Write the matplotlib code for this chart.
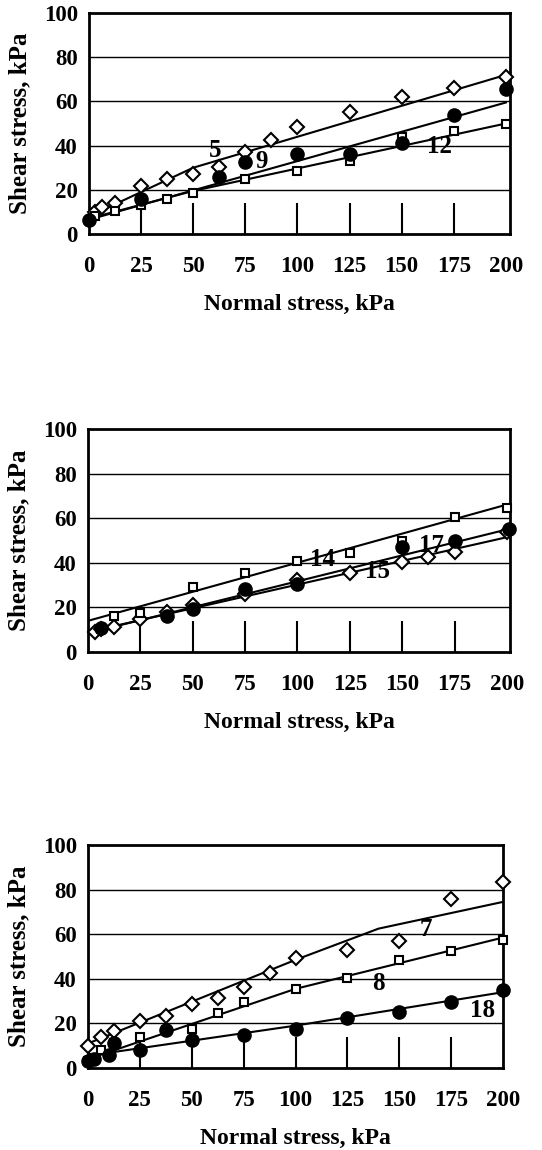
import matplotlib
matplotlib.use("Agg")
import matplotlib.pyplot as plt

plt.rcParams['font.family'] = ['Liberation Serif', 'DejaVu Serif']
plt.rcParams['font.weight'] = 'bold'

x_ticks = [0, 25, 50, 75, 100, 125, 150, 175, 200]
y_ticks = [0, 20, 40, 60, 80, 100]
grid_y = [20, 40, 60, 80]

# panel 1: soils 5, 9, 12
p1_x5 = [3.1, 6.3, 12.5, 25, 37.5, 50, 62.5, 75, 87.5, 100, 125, 150, 175, 200]
p1_y5 = [9.8, 12.4, 13.9, 21.7, 25, 27.3, 30.3, 37, 42.7, 48.5, 55, 62, 66, 71]
p1_x9 = [0, 25, 62.5, 75, 100, 125, 150, 175, 200]
p1_y9 = [6.4, 15.9, 25.8, 32.6, 36, 36, 41, 54, 65.5]
p1_x12 = [3.1, 12.5, 25, 37.5, 50, 75, 100, 125, 150, 175, 200]
p1_y12 = [8.3, 10.6, 13.3, 16, 18.6, 25, 28.3, 33, 44, 46.5, 50]
p1_fit5 = ([0, 50, 200], [8, 30, 72])
p1_fit9 = ([0, 200], [6.5, 59.5])
p1_fit12 = ([0, 50, 200], [7, 19.5, 50])

# panel 2: soils 14, 15, 17
p2_x14 = [6.3, 12.5, 25, 50, 75, 100, 125, 150, 175, 200]
p2_y14 = [10.5, 16.2, 17.5, 29, 35.5, 41, 44.3, 50, 60.7, 64.6]
p2_x15 = [3.1, 6.3, 12.5, 25, 37.5, 50, 75, 100, 125, 150, 162.5, 175, 200]
p2_y15 = [9, 10.4, 11.2, 15, 18, 21.3, 26, 32.5, 35.4, 40.3, 42.5, 45, 53.7]
p2_x17 = [6.3, 37.5, 50, 75, 100, 150, 175, 201]
p2_y17 = [11, 16, 19.4, 28.4, 30.3, 47, 50, 55.2]
p2_fit14 = ([0, 201], [14, 66.4])
p2_fit15 = ([0, 200], [9, 51.5])
p2_fit17 = ([0, 201], [8.5, 55.2])

# panel 3: soils 7, 8, 18
p3_x7 = [0, 6.3, 12.5, 25, 37.5, 50, 62.5, 75, 87.5, 100, 125, 150, 175, 200]
p3_y7 = [10, 14, 16.7, 21, 23.5, 28.8, 31.4, 36.2, 42.4, 49.5, 53, 57, 75.6, 83.6]
p3_x8 = [0, 3.1, 6.3, 12.5, 25, 37.5, 50, 62.5, 75, 100, 125, 150, 175, 200]
p3_y8 = [3, 4.4, 7.9, 11.4, 14, 17, 17.7, 24.5, 29.8, 35.6, 40.5, 48.5, 52.3, 57.4]
p3_x18 = [0, 3.1, 10, 12.5, 25, 37.5, 50, 75, 100, 125, 150, 175, 200]
p3_y18 = [3.3, 4, 6, 11, 8, 17, 12.4, 15, 17.7, 22.6, 25, 29.8, 35.2]
p3_fit7 = ([0, 100, 140, 200], [11, 48.5, 62.5, 74.5])
p3_fit8 = ([0, 100, 200], [4, 35.5, 58.5])
p3_fit18 = ([0, 100, 200], [5.5, 19, 34])

fig = plt.figure(figsize=(5.42, 11.5), dpi=100)

panels = [
    dict(rect=[0.1642, 0.7965, 0.7768, 0.1922], xmax=202,
         fits=[p1_fit5, p1_fit9, p1_fit12],
         diam=(p1_x5, p1_y5), circ=(p1_x9, p1_y9), sq=(p1_x12, p1_y12),
         labels=[("5", 60.7, 38), ("9", 83, 32.6), ("12", 168, 39.4)]),
    dict(rect=[0.1624, 0.4330, 0.7786, 0.1939], xmax=201.5,
         fits=[p2_fit14, p2_fit15, p2_fit17],
         diam=(p2_x15, p2_y15), circ=(p2_x17, p2_y17), sq=(p2_x14, p2_y14),
         labels=[("14", 112, 41.3), ("15", 138, 35.9), ("17", 164, 48)]),
    dict(rect=[0.1624, 0.0713, 0.7657, 0.1939], xmax=200,
         fits=[p3_fit7, p3_fit8, p3_fit18],
         diam=(p3_x7, p3_y7), circ=(p3_x18, p3_y18), sq=(p3_x8, p3_y8),
         labels=[("7", 163, 62), ("8", 140, 38), ("18", 190, 26)]),
]

for p in panels:
    ax = fig.add_axes(p['rect'])
    ax.set_xlim(0, p['xmax'])
    ax.set_ylim(0, 100)

    for gy in grid_y:
        ax.axhline(gy, color='black', lw=1.0, zorder=1)
    ax.vlines(x_ticks[1:-1], 0, 14, color='black', lw=1.5, zorder=1)

    for fx, fy in p['fits']:
        ax.plot(fx, fy, color='black', lw=1.5, zorder=2)

    ax.plot(*p['diam'], 'D', ms=7, mfc='white', mec='black', mew=1.5,
            ls='none', zorder=3, clip_on=False)
    ax.plot(*p['sq'], 's', ms=5.5, mfc='white', mec='black', mew=1.5,
            ls='none', zorder=3, clip_on=False)
    ax.plot(*p['circ'], 'o', ms=9.5, color='black', ls='none', zorder=4,
            clip_on=False)

    for txt, tx, ty in p['labels']:
        ax.text(tx, ty, txt, fontsize=18, fontweight='bold', ha='center',
                va='center', zorder=5)

    ax.set_xticks(x_ticks)
    ax.set_yticks(y_ticks)
    ax.tick_params(axis='x', length=0, pad=16, labelsize=16.5)
    ax.tick_params(axis='y', length=0, pad=8, labelsize=16.5)
    for lab in ax.get_xticklabels() + ax.get_yticklabels():
        lab.set_fontweight('bold')
    for s in ax.spines.values():
        s.set_linewidth(2)

    ax.set_xlabel("Normal stress, kPa", fontsize=17, fontweight='bold',
                  labelpad=12)
    ax.set_ylabel("Shear stress, kPa", fontsize=18, fontweight='bold',
                  labelpad=9)

fig.savefig("out.png", dpi=100)
